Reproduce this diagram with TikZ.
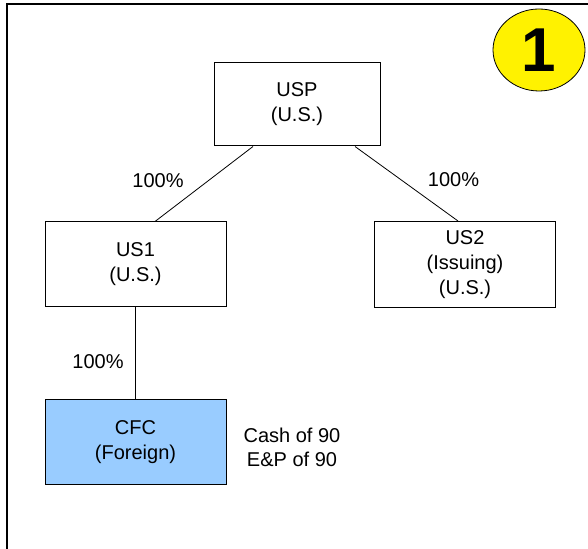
\documentclass[tikz,border=0pt]{standalone}
\usepackage{fontspec}
\setmainfont{Liberation Sans}
\usetikzlibrary{shapes.geometric}

\definecolor{cfcblue}{RGB}{153,204,255}

\begin{document}
\begin{tikzpicture}[x=1pt, y=1pt, node distance=160pt,
    entity/.style={draw, line width=1pt, align=center, minimum width=181pt,
        minimum height=85pt, font=\fontsize{20}{25}\selectfont},
    pct/.style={font=\fontsize{20}{24}\selectfont}]
    \useasboundingbox (0,0) rectangle (588,548);

    % Frame
    \draw[line width=2pt] (7,-2) -- (7,544) -- (590,544);

    % Step number
    \node (Num) [draw, ellipse, fill=yellow, line width=0.8pt, minimum width=92pt,
        minimum height=82pt, inner sep=0pt, font=\fontsize{62}{62}\selectfont\bfseries]
        at (539,498) {1};

    % Parent
    \node (USP) [entity, minimum width=166pt, minimum height=83pt] at (297,443.5) {USP\\(U.S.)};

    % Subsidiaries
    \node (US1) [entity, below of=USP, xshift=-161.5pt] {US1\\(U.S.)};
    \node (US2) [entity, below of=USP, xshift=168pt, minimum height=86pt] {US2\\(Issuing)\\(U.S.)};
    \node (CFC) [entity, below of=US1, yshift=-17.5pt, fill=cfcblue] {CFC\\(Foreign)};

    % Ownership lines
    \draw[line width=0.8pt] ([xshift=-44pt]USP.south) -- ([xshift=19.5pt]US1.north);
    \draw[line width=0.8pt] ([xshift=58pt]USP.south) -- ([xshift=-7pt]US2.north);
    \draw[line width=0.8pt] (US1.south) -- (CFC.north);

    % Labels
    \node (pUS1) [pct] at (158,367) {100\%};
    \node (pUS2) [pct] at (453.5,368) {100\%};
    \node (pCFC) [pct] at (98,186) {100\%};
    \node (cash) [align=center, font=\fontsize{20}{24}\selectfont] at (292,100.5) {Cash of 90\\E\&P of 90};
\end{tikzpicture}
\end{document}
